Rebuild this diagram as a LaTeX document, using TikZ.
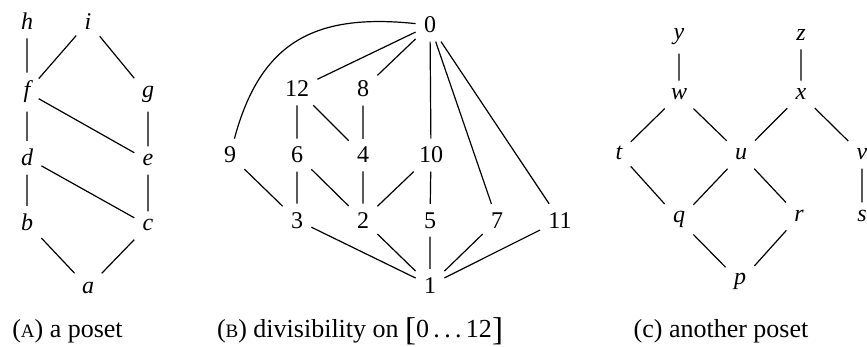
\documentclass[tikz,border=0pt]{standalone}
\usepackage{fontspec}
\setmainfont{Liberation Serif}
\newcommand\fakesc[1]{{\fontsize{9.5}{10}\selectfont #1}}
\begin{document}
\begin{tikzpicture}[x=0.5pt,y=-0.5pt,
  lv/.style={inner sep=4pt, anchor=base, font=\fontsize{12}{14}\selectfont\itshape},
  nv/.style={inner sep=4pt, anchor=base, font=\fontsize{12}{14}\selectfont},
  capt/.style={anchor=base, inner sep=0pt, font=\fontsize{13}{15}\selectfont},
  ed/.style={line width=0.6pt}]
\useasboundingbox (0,0) rectangle (867,347);
% ---------- panel A ----------
\node[lv] (Ah) at (27,30) {h};
\node[lv] (Ai) at (88,30) {i};
\node[lv] (Af) at (27,98) {f};
\node[lv] (Ag) at (148,98) {g};
\node[lv] (Ad) at (27,166) {d};
\node[lv] (Ae) at (148,166) {e};
\node[lv] (Ab) at (27,231) {b};
\node[lv] (Ac) at (148,231) {c};
\node[lv] (Aa) at (88,293) {a};
\draw[ed] (Ah)--(Af) (Ai)--(Af) (Ai)--(Ag) (Af)--(Ad) (Af)--(Ae) (Ag)--(Ae)
  (Ad)--(Ab) (Ad)--(Ac) (Ae)--(Ac) (Ab)--(Aa) (Ac)--(Aa);
% ---------- panel B ----------
\node[nv] (B0) at (430,33) {0};
\node[nv] (B12) at (297,97) {12};
\node[nv] (B8) at (363,97) {8};
\node[nv] (B9) at (230,163) {9};
\node[nv] (B6) at (297,163) {6};
\node[nv] (B4) at (363,163) {4};
\node[nv] (B10) at (431,163) {10};
\node[nv] (B3) at (297,228) {3};
\node[nv] (B2) at (363,228) {2};
\node[nv] (B5) at (430,228) {5};
\node[nv] (B7) at (497,228) {7};
\node[nv] (B11) at (560,228) {11};
\node[nv] (B1) at (430,293) {1};
\draw[ed] (B0) to[out=174,in=75,looseness=1.2] (B9);
\draw[ed] (B0)--(B12) (B0)--(B8) (B0)--(B10) (B0)--(B7) (B0)--(B11)
  (B12)--(B6) (B12)--(B4) (B8)--(B4) (B9)--(B3) (B6)--(B3) (B6)--(B2)
  (B4)--(B2) (B10)--(B2) (B10)--(B5) (B3)--(B1) (B2)--(B1) (B5)--(B1)
  (B7)--(B1) (B11)--(B1);
% ---------- panel C ----------
\node[lv] (Cy) at (679,40) {y};
\node[lv] (Cz) at (801,41) {z};
\node[lv] (Cw) at (679,100) {w};
\node[lv] (Cx) at (801,100) {x};
\node[lv] (Ct) at (619,160) {t};
\node[lv] (Cu) at (741,160) {u};
\node[lv] (Cv) at (862,160) {v};
\node[lv] (Cq) at (679,223) {q};
\node[lv] (Cr) at (799,222) {r};
\node[lv] (Cs) at (862,222) {s};
\node[lv] (Cp) at (740,285) {p};
\draw[ed] (Cy)--(Cw) (Cz)--(Cx) (Cw)--(Ct) (Cw)--(Cu) (Cx)--(Cu) (Cx)--(Cv)
  (Ct)--(Cq) (Cu)--(Cq) (Cu)--(Cr) (Cv)--(Cs) (Cq)--(Cp) (Cr)--(Cp);
% ---------- captions ----------
\node[capt] (capA) at (67.5,337) {(\fakesc{A}) a poset};
\node[capt] (capB) at (360,337) {(\fakesc{B}) divisibility on \raisebox{-1.6pt}{\fontsize{16.5}{17}\selectfont[}0\,.\,.\,.\,12\raisebox{-1.6pt}{\fontsize{16.5}{17}\selectfont]}};
\node[capt] (capC) at (721,337) {(c) another poset};
\end{tikzpicture}
\end{document}
